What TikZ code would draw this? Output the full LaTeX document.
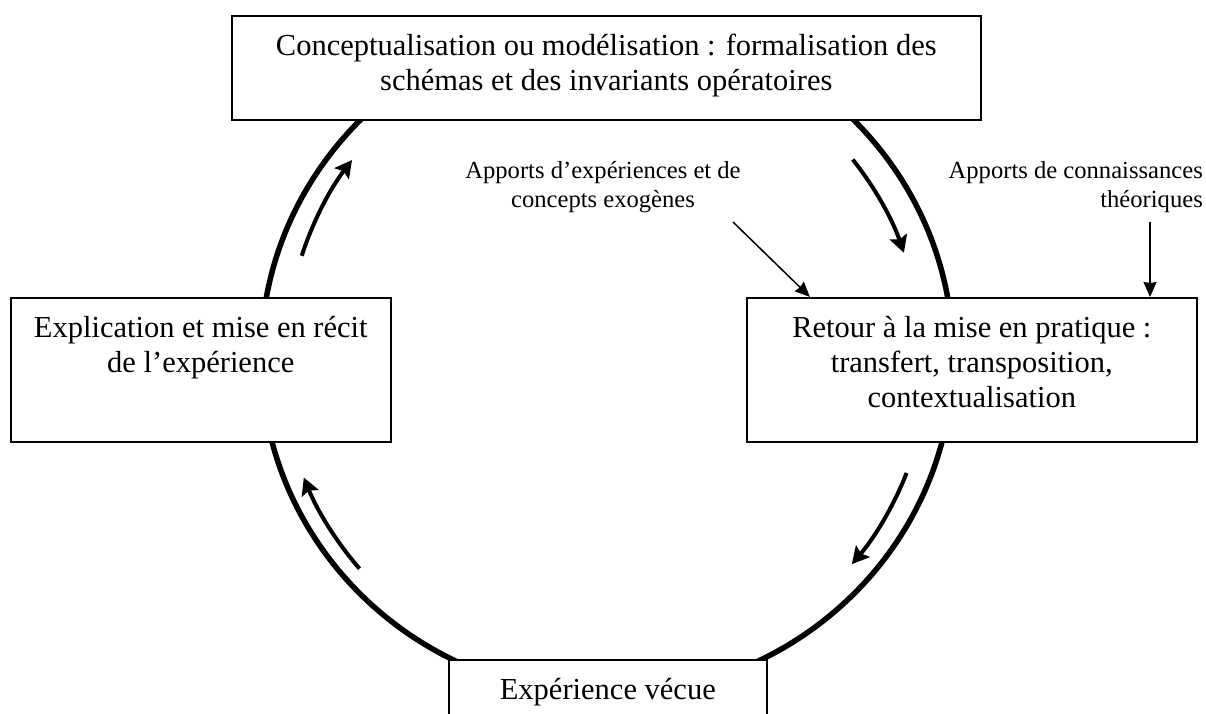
\documentclass[tikz,border=0pt]{standalone}
\usepackage{fontspec}
\setmainfont{Liberation Serif}
\usetikzlibrary{arrows.meta,calc}
\newcommand{\boxcontent}[3]{\parbox[t][#2][t]{#1}{\centering\rule{0pt}{40pt}#3}}
\begin{document}
\begin{tikzpicture}[x=1pt,y=-1pt,
  boxnode/.style={draw, line width=1.6pt, fill=white, inner sep=0pt, anchor=north west, font=\fontsize{30.5}{35}\selectfont},
  flow/.style={line width=4pt, -{Stealth[length=17pt,width=18pt,inset=3pt]}},
  feed/.style={line width=1.5pt, -{Stealth[length=15pt,width=13pt,inset=1pt]}},
  note/.style={inner sep=0pt, font=\fontsize{24.6}{29}\selectfont}]
\useasboundingbox (0,0) rectangle (1206,713);
\coordinate (c) at (607,357);
\coordinate (ca) at (607,355);
\draw[line width=5.5pt] (c) ellipse [x radius=346pt, y radius=338pt];
% boxes
\node[boxnode] (top) at (231,15) {\boxcontent{749pt}{104pt}{Conceptualisation ou modélisation : formalisation des\\schémas et des invariants opératoires}};
\node[boxnode] (left) at (10,297) {\boxcontent{380pt}{144pt}{Explication et mise en récit\\de l’expérience}};
\node[boxnode] (right) at (746,297) {\boxcontent{450pt}{144pt}{Retour à la mise en pratique :\\transfert, transposition,\\contextualisation}};
\node[boxnode] (bottom) at (448,659) {\boxcontent{318pt}{90pt}{Expérience vécue}};
% cycle arrows
\draw[flow] ($(ca)+(162:321pt)$) arc[start angle=162, end angle=142.6, radius=321pt];
\draw[flow] ($(ca)+(38.5:314pt)$) arc[start angle=38.5, end angle=19, radius=314pt];
\draw[flow] ($(ca)+(-21.5:322pt)$) arc[start angle=-21.5, end angle=-40.5, radius=322pt];
\draw[flow] ($(ca)+(220.8:327pt)$) arc[start angle=220.8, end angle=202, radius=327pt];
% notes
\node[note, anchor=north, align=center] (n1) at (603,158) {\rule{0pt}{20pt}Apports d’expériences et de\\concepts exogènes};
\node[note, anchor=north east, align=right] (n2) at (1203,158) {\rule{0pt}{20pt}Apports de connaissances\\théoriques};
\coordinate (n1s) at (733,222);
\coordinate (n2s) at (1150,222);
\draw[feed] (n1s) -- ([xshift=64pt]right.north west);
\draw[feed] (n2s) -- (n2s |- right.north);
\end{tikzpicture}
\end{document}
